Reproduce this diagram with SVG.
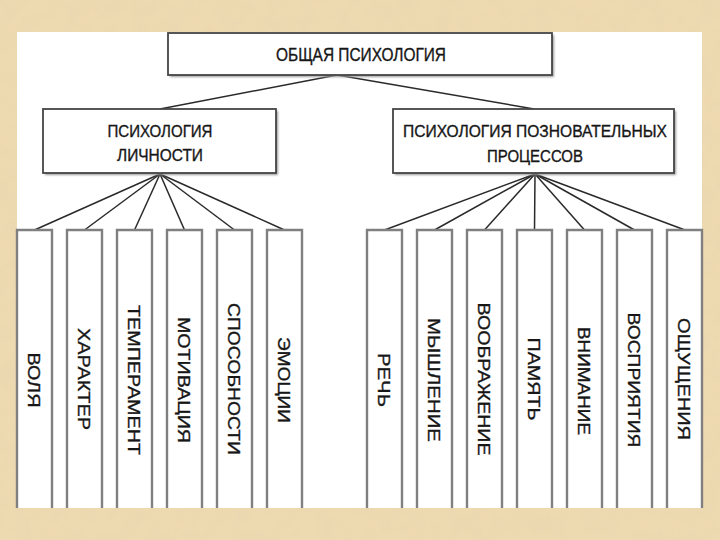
<svg xmlns="http://www.w3.org/2000/svg" width="720" height="540" viewBox="0 0 720 540">
  <defs>
    <filter id="paper" x="0" y="0" width="100%" height="100%">
      <feTurbulence type="fractalNoise" baseFrequency="0.06" numOctaves="3" seed="4" result="n"/>
      <feColorMatrix in="n" type="matrix" values="0 0 0 0 0.78  0 0 0 0 0.66  0 0 0 0 0.45  0 0 0 -1.2 0.75"/>
    </filter>
    <filter id="soft" x="-5%" y="-5%" width="110%" height="110%">
      <feGaussianBlur stdDeviation="0.8"/>
    </filter>
  </defs>
  <style>
    .box { fill: #ffffff; stroke: #454545; stroke-width: 1.8; }
    .shadow { fill: #9a9a9a; filter: url(#soft); }
    .leaf { fill: #ffffff; stroke: #808080; stroke-width: 2.4; }
    .t { font-family: "Liberation Sans", Arial, sans-serif; fill: #161616; stroke: #161616; stroke-width: 0.35; text-anchor: middle; }
    .head { font-size: 18px; }
    .mid { font-size: 17px; }
    .lt { font-size: 17px; }
    .conn { stroke: #2a2a2a; stroke-width: 1.5; fill: none; }
  </style>

  <!-- background -->
  <rect x="0" y="0" width="720" height="540" fill="#EEDAB0"/>
  <rect x="0" y="0" width="720" height="540" filter="url(#paper)" opacity="0.6"/>
  <!-- white panel -->
  <rect x="17" y="32" width="685" height="476" fill="#ffffff"/>

  <!-- connectors -->
  <g id="connectors" class="conn">
    <line x1="337" y1="75" x2="160" y2="109"/>
    <line x1="337" y1="75" x2="534" y2="109"/>
    <line x1="160" y1="174" x2="34.5" y2="230"/>
    <line x1="160" y1="174" x2="84.5" y2="230"/>
    <line x1="160" y1="174" x2="134.5" y2="230"/>
    <line x1="160" y1="174" x2="184.5" y2="230"/>
    <line x1="160" y1="174" x2="234.5" y2="230"/>
    <line x1="160" y1="174" x2="284.5" y2="230"/>
    <line x1="535" y1="174" x2="384.5" y2="230"/>
    <line x1="535" y1="174" x2="434.5" y2="230"/>
    <line x1="535" y1="174" x2="484.5" y2="230"/>
    <line x1="535" y1="174" x2="534.5" y2="230"/>
    <line x1="535" y1="174" x2="584.5" y2="230"/>
    <line x1="535" y1="174" x2="634.5" y2="230"/>
    <line x1="535" y1="174" x2="685" y2="230"/>
  </g>

  <!-- top node -->
  <g id="node-general">
    <rect class="shadow" x="170" y="35" width="384" height="42"/>
    <rect class="box" x="168" y="33" width="384" height="42"/>
    <text class="t head" x="361" y="61" textLength="170" lengthAdjust="spacingAndGlyphs">ОБЩАЯ ПСИХОЛОГИЯ</text>
  </g>

  <!-- mid nodes -->
  <g id="node-personality">
    <rect class="shadow" x="45" y="111" width="233" height="64"/>
    <rect class="box" x="43" y="109" width="233" height="64"/>
    <text class="t mid" x="160" y="137" textLength="105" lengthAdjust="spacingAndGlyphs">ПСИХОЛОГИЯ</text>
    <text class="t mid" x="160" y="161" textLength="86" lengthAdjust="spacingAndGlyphs">ЛИЧНОСТИ</text>
  </g>
  <g id="node-cognitive">
    <rect class="shadow" x="395" y="111" width="281" height="64"/>
    <rect class="box" x="393" y="109" width="281" height="64"/>
    <text class="t mid" x="535" y="137" textLength="264" lengthAdjust="spacingAndGlyphs">ПСИХОЛОГИЯ ПОЗНОВАТЕЛЬНЫХ</text>
    <text class="t mid" x="535" y="162" textLength="96" lengthAdjust="spacingAndGlyphs">ПРОЦЕССОВ</text>
  </g>

  <!-- leaves: personality -->
  <g id="leaf-volya">
    <path class="leaf" d="M17,508 V230 H52 V508"/>
    <text class="t lt" transform="translate(34.5,380) rotate(90)" x="0" y="6.3" textLength="55" lengthAdjust="spacingAndGlyphs">ВОЛЯ</text>
  </g>
  <g id="leaf-harakter">
    <path class="leaf" d="M67,508 V230 H102 V508"/>
    <text class="t lt" transform="translate(84.5,379) rotate(90)" x="0" y="6.3" textLength="102" lengthAdjust="spacingAndGlyphs">ХАРАКТЕР</text>
  </g>
  <g id="leaf-temperament">
    <path class="leaf" d="M117,508 V230 H152 V508"/>
    <text class="t lt" transform="translate(134.5,380) rotate(90)" x="0" y="6.3" textLength="150" lengthAdjust="spacingAndGlyphs">ТЕМПЕРАМЕНТ</text>
  </g>
  <g id="leaf-motivaciya">
    <path class="leaf" d="M167,508 V230 H202 V508"/>
    <text class="t lt" transform="translate(184.5,380) rotate(90)" x="0" y="6.3" textLength="126" lengthAdjust="spacingAndGlyphs">МОТИВАЦИЯ</text>
  </g>
  <g id="leaf-sposobnosti">
    <path class="leaf" d="M217,508 V230 H252 V508"/>
    <text class="t lt" transform="translate(234.5,379) rotate(90)" x="0" y="6.3" textLength="152" lengthAdjust="spacingAndGlyphs">СПОСОБНОСТИ</text>
  </g>
  <g id="leaf-emocii">
    <path class="leaf" d="M267,508 V230 H302 V508"/>
    <text class="t lt" transform="translate(284.5,380) rotate(90)" x="0" y="6.3" textLength="86" lengthAdjust="spacingAndGlyphs">ЭМОЦИИ</text>
  </g>

  <!-- leaves: cognitive -->
  <g id="leaf-rech">
    <path class="leaf" d="M367,508 V230 H402 V508"/>
    <text class="t lt" transform="translate(384.5,380) rotate(90)" x="0" y="6.3" textLength="54" lengthAdjust="spacingAndGlyphs">РЕЧЬ</text>
  </g>
  <g id="leaf-myshlenie">
    <path class="leaf" d="M417,508 V230 H452 V508"/>
    <text class="t lt" transform="translate(434.5,380) rotate(90)" x="0" y="6.3" textLength="124" lengthAdjust="spacingAndGlyphs">МЫШЛЕНИЕ</text>
  </g>
  <g id="leaf-voobrazhenie">
    <path class="leaf" d="M467,508 V230 H502 V508"/>
    <text class="t lt" transform="translate(484.5,379) rotate(90)" x="0" y="6.3" textLength="153" lengthAdjust="spacingAndGlyphs">ВООБРАЖЕНИЕ</text>
  </g>
  <g id="leaf-pamyat">
    <path class="leaf" d="M517,508 V230 H552 V508"/>
    <text class="t lt" transform="translate(534.5,379) rotate(90)" x="0" y="6.3" textLength="83" lengthAdjust="spacingAndGlyphs">ПАМЯТЬ</text>
  </g>
  <g id="leaf-vnimanie">
    <path class="leaf" d="M567,508 V230 H602 V508"/>
    <text class="t lt" transform="translate(584.5,381) rotate(90)" x="0" y="6.3" textLength="108" lengthAdjust="spacingAndGlyphs">ВНИМАНИЕ</text>
  </g>
  <g id="leaf-vospriyatiya">
    <path class="leaf" d="M617,508 V230 H652 V508"/>
    <text class="t lt" transform="translate(634.5,380) rotate(90)" x="0" y="6.3" textLength="135" lengthAdjust="spacingAndGlyphs">ВОСПРИЯТИЯ</text>
  </g>
  <g id="leaf-oshchushcheniya">
    <path class="leaf" d="M667,508 V230 H702 V508"/>
    <text class="t lt" transform="translate(684.5,379) rotate(90)" x="0" y="6.3" textLength="122" lengthAdjust="spacingAndGlyphs">ОЩУЩЕНИЯ</text>
  </g>
</svg>
